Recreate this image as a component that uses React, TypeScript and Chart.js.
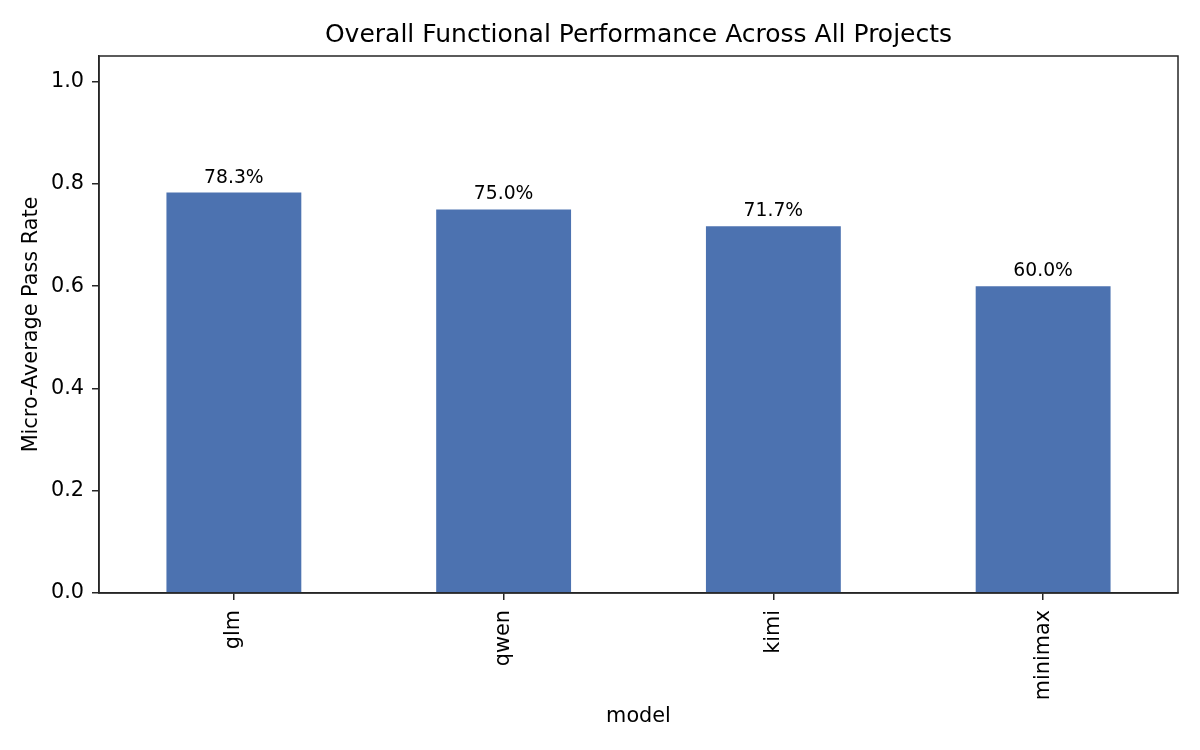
import React, { useEffect, useRef } from 'react';
import { Chart, registerables } from 'chart.js';

Chart.register(...registerables);

const models = ['glm', 'qwen', 'kimi', 'minimax'];
const passRates = [0.783, 0.75, 0.717, 0.6];
const yTicks = [0, 0.2, 0.4, 0.6, 0.8, 1.0];

const FONT = "'DejaVu Sans', sans-serif";
const BAR_COLOR = '#4c72b0';
const AXIS_COLOR = '#262626';

// matplotlib style closed frame round the plot area
const framePlugin = {
  id: 'frame',
  afterDraw(chart: any) {
    const { ctx, chartArea } = chart;
    ctx.save();
    ctx.strokeStyle = AXIS_COLOR;
    ctx.lineWidth = 1.5;
    ctx.strokeRect(chartArea.left, chartArea.top, chartArea.right - chartArea.left, chartArea.bottom - chartArea.top);
    ctx.restore();
  },
};

// percentage text over each bar
const barLabelPlugin = {
  id: 'barLabels',
  afterDatasetsDraw(chart: any) {
    const { ctx } = chart;
    const meta = chart.getDatasetMeta(0);
    ctx.save();
    ctx.font = `18.75px ${FONT}`;
    ctx.fillStyle = '#000';
    ctx.textAlign = 'center';
    ctx.textBaseline = 'alphabetic';
    meta.data.forEach((bar: any, i: number) => {
      const v = chart.data.datasets[0].data[i] as number;
      ctx.fillText(`${(v * 100).toFixed(1)}%`, bar.x, bar.y - 10);
    });
    ctx.restore();
  },
};

const App: React.FC = () => {
  const canvasRef = useRef<HTMLCanvasElement>(null);
  const chartRef = useRef<Chart | null>(null);

  useEffect(() => {
    if (chartRef.current) {
      chartRef.current.destroy();
    }
    if (!canvasRef.current) return;
    const ctx = canvasRef.current.getContext('2d');
    if (!ctx) return;

    // @ts-ignore
    chartRef.current = new Chart(ctx, {
      type: 'bar',
      data: {
        labels: models,
        datasets: [
          {
            data: passRates,
            backgroundColor: BAR_COLOR,
            borderWidth: 0,
            categoryPercentage: 1,
            barPercentage: 0.5,
          },
        ],
      },
      options: {
        responsive: false,
        animation: false,
        layout: { padding: { left: 0, right: 22, top: 0, bottom: 0 } },
        plugins: {
          legend: { display: false },
          tooltip: { enabled: false },
          title: {
            display: true,
            fullSize: false,
            text: 'Overall Functional Performance Across All Projects',
            color: '#000',
            font: { family: FONT, size: 25, weight: 'normal', lineHeight: 1.2 },
            padding: { top: 20, bottom: 6 },
          },
        },
        scales: {
          x: {
            type: 'category',
            grid: {
              offset: false,
              drawOnChartArea: false,
              drawTicks: true,
              tickLength: 7,
              color: AXIS_COLOR,
              lineWidth: 1.5,
            },
            border: { display: true, color: AXIS_COLOR, width: 1.5 },
            ticks: {
              color: '#000',
              font: { family: FONT, size: 20.8 },
              minRotation: 90,
              maxRotation: 90,
              autoSkip: false,
              padding: 10,
            },
            title: {
              display: true,
              text: 'model',
              color: '#000',
              font: { family: FONT, size: 20.8, lineHeight: 1.2 },
              padding: { top: 0, bottom: 21 },
            },
            afterFit(scale: any) {
              scale.height = 157;
            },
          },
          y: {
            type: 'linear',
            min: 0,
            max: 1.05,
            afterBuildTicks(scale: any) {
              scale.ticks = yTicks.map((v) => ({ value: v }));
            },
            grid: {
              drawOnChartArea: false,
              drawTicks: true,
              tickLength: 7,
              color: AXIS_COLOR,
              lineWidth: 1.5,
            },
            border: { display: true, color: AXIS_COLOR, width: 1.5 },
            ticks: {
              color: '#000',
              font: { family: FONT, size: 20.8 },
              padding: 8,
              callback: (v: any) => Number(v).toFixed(1),
            },
            title: {
              display: true,
              text: 'Micro-Average Pass Rate',
              color: '#000',
              font: { family: FONT, size: 20.8, lineHeight: 1.2 },
              padding: { top: 19.5, bottom: 0 },
            },
            afterFit(scale: any) {
              scale.width = 99;
            },
          },
        },
      },
      plugins: [framePlugin, barLabelPlugin],
    });

    return () => {
      if (chartRef.current) {
        chartRef.current.destroy();
        chartRef.current = null;
      }
    };
  }, []);

  return (
    <div style={{ position: 'absolute', left: 0, top: 0, width: 1200, height: 750, background: '#fff' }}>
      <canvas ref={canvasRef} width={1200} height={750}></canvas>
    </div>
  );
};

export default App;
